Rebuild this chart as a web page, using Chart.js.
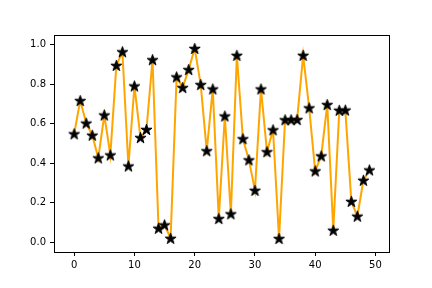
<!DOCTYPE html>
<html>
<head>
<meta charset="utf-8">
<script src="https://cdn.jsdelivr.net/npm/chart.js@4"></script>
<style>
html,body{margin:0;padding:0;background:#fff;}
#wrap{width:432px;height:288px;}
</style>
</head>
<body>
<div id="wrap"><canvas id="c" width="432" height="288"></canvas></div>
<script>
const xValues = [0,1,2,3,4,5,6,7,8,9,10,11,12,13,14,15,16,17,18,19,20,21,22,23,24,25,26,27,28,29,30,31,32,33,34,35,36,37,38,39,40,41,42,43,44,45,46,47,48,49];
const yValues = [0.549,0.717,0.603,0.542,0.427,0.644,0.442,0.895,0.964,0.386,
                 0.791,0.530,0.571,0.924,0.071,0.088,0.020,0.837,0.783,0.874,
                 0.981,0.798,0.463,0.776,0.120,0.639,0.144,0.946,0.524,0.417,
                 0.263,0.776,0.458,0.569,0.019,0.620,0.620,0.621,0.946,0.680,
                 0.361,0.437,0.697,0.061,0.668,0.669,0.207,0.132,0.314,0.366];
const xTickStep = 10;
const yTickStep = 0.2;

function makeStar(size) {
  const c = document.createElement('canvas');
  c.width = size; c.height = size;
  const g = c.getContext('2d');
  const cx = size / 2, cy = size / 2 + 0.5;
  const R = size / 2 - 0.7, r = R * 0.382;
  g.beginPath();
  for (let i = 0; i < 10; i++) {
    const rad = i % 2 === 0 ? R : r;
    const a = -Math.PI / 2 + i * Math.PI / 5;
    const px = cx + rad * Math.cos(a), py = cy + rad * Math.sin(a);
    if (i === 0) g.moveTo(px, py); else g.lineTo(px, py);
  }
  g.closePath();
  g.fillStyle = '#000';
  g.fill();
  g.lineWidth = 1;
  g.strokeStyle = '#000';
  g.lineJoin = 'miter';
  g.stroke();
  return c;
}
const star = makeStar(13);

const frame = {
  id: 'frame',
  afterDraw(chart) {
    const a = chart.chartArea, ctx = chart.ctx;
    ctx.save();
    ctx.strokeStyle = '#000';
    ctx.lineWidth = 1;
    ctx.strokeRect(Math.round(a.left) + 0.5, Math.round(a.top) + 0.5,
                   Math.round(a.right - a.left), Math.round(a.bottom - a.top));
    ctx.restore();
  }
};

const fontSpec = { family: 'DejaVu Sans', size: 10 };

new Chart(document.getElementById('c'), {
  type: 'line',
  data: {
    datasets: [{
      data: xValues.map((x, i) => ({ x: x, y: yValues[i] })),
      borderColor: '#FFA500',
      borderWidth: 2,
      tension: 0,
      pointStyle: star,
      pointRadius: 6.5,
      pointHoverRadius: 6.5,
      fill: false
    }]
  },
  options: {
    responsive: false,
    animation: false,
    events: [],
    layout: { padding: { top: 35, right: 43, left: 0, bottom: 0 } },
    plugins: { legend: { display: false }, tooltip: { enabled: false } },
    scales: {
      x: {
        type: 'linear',
        min: -3.35, max: 52.25,
        afterFit(s) { s.height = 36; },
        grid: { drawOnChartArea: false, tickLength: 4, tickColor: '#000', tickWidth: 1 },
        border: { display: false },
        ticks: { stepSize: xTickStep, includeBounds: false, color: '#000', font: fontSpec, padding: 3, maxRotation: 0,
                 callback: v => String(v) }
      },
      y: {
        type: 'linear',
        min: -0.049, max: 1.049,
        afterFit(s) { s.width = 54; },
        grid: { drawOnChartArea: false, tickLength: 4, tickColor: '#000', tickWidth: 1 },
        border: { display: false },
        ticks: { stepSize: yTickStep, includeBounds: false, color: '#000', font: fontSpec, padding: 4,
                 callback: v => Number(v).toFixed(1) }
      }
    }
  },
  plugins: [frame]
});
</script>
</body>
</html>
